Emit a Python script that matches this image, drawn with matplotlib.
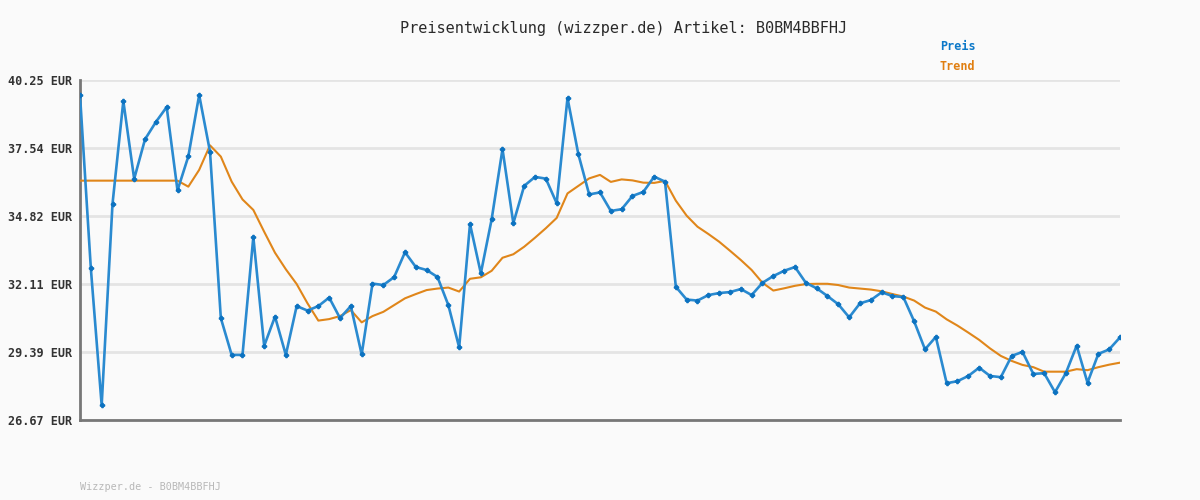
import numpy as np
import matplotlib.pyplot as plt

# price history and its trend line
preis = [39.65, 32.73, 27.26, 35.30, 39.41, 36.30, 37.88, 38.57, 39.17, 35.84,
         37.20, 39.65, 37.39, 30.74, 29.27, 29.27, 33.98, 29.63, 30.80, 29.27,
         31.22, 31.04, 31.22, 31.56, 30.74, 31.22, 29.29, 32.12, 32.06, 32.38,
         33.37, 32.78, 32.66, 32.38, 31.26, 29.57, 34.50, 32.53, 34.69, 37.49,
         34.53, 36.02, 36.38, 36.31, 35.33, 39.53, 37.29, 35.68, 35.76, 35.02,
         35.09, 35.62, 35.78, 36.39, 36.19, 31.99, 31.48, 31.44, 31.66, 31.74,
         31.78, 31.90, 31.66, 32.15, 32.42, 32.63, 32.78, 32.15, 31.93, 31.62,
         31.29, 30.77, 31.33, 31.46, 31.77, 31.62, 31.58, 30.61, 29.49, 29.99,
         28.14, 28.22, 28.43, 28.76, 28.43, 28.38, 29.23, 29.39, 28.51, 28.54,
         27.78, 28.54, 29.64, 28.16, 29.31, 29.49, 29.97]

trend = [36.23, 36.23, 36.23, 36.23, 36.23, 36.23, 36.23, 36.23, 36.23, 36.23,
         35.99, 36.66, 37.64, 37.19, 36.19, 35.48, 35.06, 34.19, 33.35, 32.69,
         32.10, 31.33, 30.64, 30.70, 30.82, 31.06, 30.57, 30.82, 30.99, 31.26,
         31.53, 31.70, 31.86, 31.92, 31.96, 31.80, 32.31, 32.37, 32.63, 33.15,
         33.29, 33.59, 33.95, 34.33, 34.74, 35.72, 36.02, 36.32, 36.46, 36.18,
         36.28, 36.24, 36.15, 36.14, 36.22, 35.43, 34.83, 34.39, 34.10, 33.79,
         33.43, 33.06, 32.66, 32.15, 31.84, 31.93, 32.03, 32.10, 32.11, 32.11,
         32.06, 31.96, 31.92, 31.88, 31.81, 31.70, 31.60, 31.44, 31.16, 31.00,
         30.69, 30.44, 30.16, 29.87, 29.53, 29.23, 29.03, 28.87, 28.78, 28.60,
         28.60, 28.60, 28.70, 28.66, 28.78, 28.88, 28.96]

y_ticks = [26.67, 29.39, 32.11, 34.82, 37.54, 40.25]
artikel = "B0BM4BBFHJ"

BG = '#fafafa'
BLUE = '#2a8ad0'
ORANGE = '#e0861a'
MONO = 'DejaVu Sans Mono'

fig = plt.figure(figsize=(12, 5), dpi=100, facecolor=BG)
ax = fig.add_axes([80 / 1200, 80 / 500, 1040 / 1200, 340 / 500], facecolor=BG)

x = np.arange(len(preis))
ax.plot(x, trend, color=ORANGE, lw=1.5, zorder=3)
ax.plot(x, preis, color=BLUE, lw=1.9, marker='P', ms=3,
        mfc='#0c72c0', mec='#0c72c0', zorder=4)

ax.set_xlim(0, len(preis) - 1)
ax.set_ylim(y_ticks[0], y_ticks[-1])
ax.set_yticks(y_ticks)
ax.set_yticklabels([f"{v:.2f} EUR" for v in y_ticks], family=MONO,
                   fontsize=8.5, fontweight='bold', color='#333333')
ax.set_xticks([])
ax.tick_params(axis='y', length=0, pad=6)
ax.grid(axis='y', color='#e4e4e4', lw=2, zorder=0)

for s in ['top', 'right']:
    ax.spines[s].set_visible(False)
for s in ['left', 'bottom']:
    ax.spines[s].set_color('#777777')
    ax.spines[s].set_linewidth(2)

fig.text(624 / 1200, 1 - 28 / 500, f"Preisentwicklung (wizzper.de) Artikel: {artikel}",
         family=MONO, fontsize=11, color='#2a2a2a', ha='center', va='center')
fig.text(940 / 1200, 1 - 47 / 500, "Preis", family=MONO, fontsize=8.5,
         fontweight='bold', color='#0c78c8', ha='left', va='center')
fig.text(940 / 1200, 1 - 67 / 500, "Trend", family=MONO, fontsize=8.5,
         fontweight='bold', color='#e07e10', ha='left', va='center')
fig.text(80 / 1200, 1 - 487 / 500, f"Wizzper.de - {artikel}", family=MONO,
         fontsize=7.3, color='#b8b8b8', ha='left', va='center')

fig.savefig('out.png', dpi=100, facecolor=BG)
